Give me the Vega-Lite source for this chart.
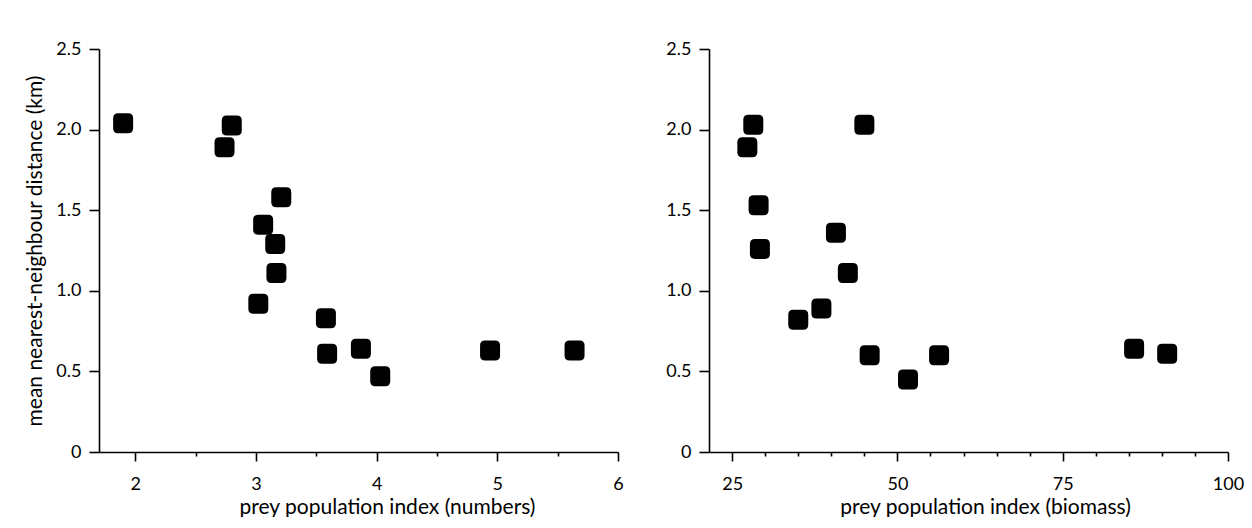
{
  "$schema": "https://vega.github.io/schema/vega-lite/v6.json",
  "autosize": {"type": "pad"},
  "padding": {"left": 24, "top": 40, "right": 5, "bottom": 0},
  "background": "white",
  "datasets": {
    "numbers": [
      {"index": 1.90, "distance": 2.04},
      {"index": 2.80, "distance": 2.025},
      {"index": 2.74, "distance": 1.89},
      {"index": 3.21, "distance": 1.58},
      {"index": 3.06, "distance": 1.41},
      {"index": 3.16, "distance": 1.29},
      {"index": 3.17, "distance": 1.11},
      {"index": 3.02, "distance": 0.92},
      {"index": 3.58, "distance": 0.83},
      {"index": 3.59, "distance": 0.61},
      {"index": 3.87, "distance": 0.64},
      {"index": 4.03, "distance": 0.47},
      {"index": 4.94, "distance": 0.63},
      {"index": 5.64, "distance": 0.63}
    ],
    "biomass": [
      {"index": 28.2, "distance": 2.03},
      {"index": 27.3, "distance": 1.89},
      {"index": 45.0, "distance": 2.03},
      {"index": 29.0, "distance": 1.53},
      {"index": 29.2, "distance": 1.26},
      {"index": 40.7, "distance": 1.36},
      {"index": 42.5, "distance": 1.11},
      {"index": 38.5, "distance": 0.89},
      {"index": 35.0, "distance": 0.82},
      {"index": 45.8, "distance": 0.60},
      {"index": 51.6, "distance": 0.45},
      {"index": 56.3, "distance": 0.60},
      {"index": 85.8, "distance": 0.64},
      {"index": 90.8, "distance": 0.61}
    ]
  },
  "config": {
    "font": "Lato",
    "view": {"stroke": null},
    "axis": {
      "grid": false,
      "domainColor": "black",
      "domainWidth": 1.6,
      "tickColor": "black",
      "tickWidth": 1.6,
      "labelColor": "black",
      "titleColor": "black",
      "labelFont": "Lato",
      "titleFont": "Lato",
      "labelFontSize": 18,
      "titleFontSize": 21,
      "titleFontWeight": "normal",
      "labelFlush": false,
      "labelOverlap": false
    }
  },
  "spacing": 41,
  "hconcat": [
    {
      "width": 519,
      "height": 403,
      "data": {"name": "numbers"},
      "mark": {
        "type": "point",
        "shape": "M -0.5 -1 L 0.5 -1 Q 1 -1 1 -0.5 L 1 0.5 Q 1 1 0.5 1 L -0.5 1 Q -1 1 -1 0.5 L -1 -0.5 Q -1 -1 -0.5 -1 Z",
        "filled": true,
        "color": "black",
        "opacity": 1,
        "size": 400
      },
      "encoding": {
        "x": {
          "field": "index",
          "type": "quantitative",
          "scale": {"domain": [1.7, 6], "nice": false, "zero": false},
          "axis": {
            "title": "prey population index (numbers)",
            "values": [2, 2.5, 3, 3.5, 4, 4.5, 5, 5.5, 6],
            "labelExpr": "datum.value % 1 === 0 ? format(datum.value, 'd') : ''",
            "tickSize": {"condition": {"test": "datum.value % 1 !== 0", "value": 4}, "value": 9},
            "labelPadding": 14,
            "titlePadding": 3,
            "titleX": 288
          }
        },
        "y": {
          "field": "distance",
          "type": "quantitative",
          "scale": {"domain": [0, 2.5], "nice": false},
          "axis": {
            "title": "mean nearest-neighbour distance (km)",
            "values": [0, 0.5, 1, 1.5, 2, 2.5],
            "labelExpr": "datum.value === 0 ? '0' : format(datum.value, '.1f')",
            "tickSize": 10,
            "labelPadding": 8,
            "titlePadding": 10
          }
        }
      }
    },
    {
      "width": 519,
      "height": 403,
      "data": {"name": "biomass"},
      "mark": {
        "type": "point",
        "shape": "M -0.5 -1 L 0.5 -1 Q 1 -1 1 -0.5 L 1 0.5 Q 1 1 0.5 1 L -0.5 1 Q -1 1 -1 0.5 L -1 -0.5 Q -1 -1 -0.5 -1 Z",
        "filled": true,
        "color": "black",
        "opacity": 1,
        "size": 400
      },
      "encoding": {
        "x": {
          "field": "index",
          "type": "quantitative",
          "scale": {"domain": [21.5, 100], "nice": false, "zero": false},
          "axis": {
            "title": "prey population index (biomass)",
            "values": [25, 30, 35, 40, 45, 50, 55, 60, 65, 70, 75, 80, 85, 90, 95, 100],
            "labelExpr": "datum.value % 25 === 0 ? datum.label : ''",
            "tickSize": {"condition": {"test": "datum.value % 25 !== 0", "value": 4}, "value": 9},
            "labelPadding": 14,
            "titlePadding": 3,
            "titleX": 276
          }
        },
        "y": {
          "field": "distance",
          "type": "quantitative",
          "scale": {"domain": [0, 2.5], "nice": false},
          "axis": {
            "title": null,
            "values": [0, 0.5, 1, 1.5, 2, 2.5],
            "labelExpr": "datum.value === 0 ? '0' : format(datum.value, '.1f')",
            "tickSize": 10,
            "labelPadding": 8
          }
        }
      }
    }
  ]
}
